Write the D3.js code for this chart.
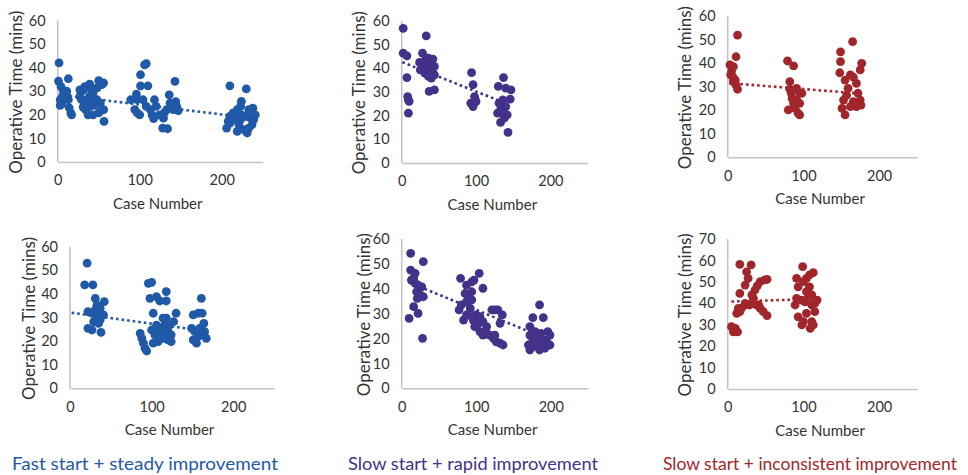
<!DOCTYPE html>
<html>
<head>
<meta charset="utf-8">
<script src="https://cdn.jsdelivr.net/npm/d3@7"></script>
<style>
	body { margin: 0; background: #fff; }
	svg text { font-family: Lato, "Open Sans", sans-serif; fill: #333; }
</style>
</head>
<body>
<svg id="chart" width="968" height="475"></svg>
<script>
// data: [case number, operative time]
var fastSteadyA = [
	[1.6,42],[1,34.3],[13,35.3],[4,32],[7,30],[11,30],[3,26.4],[5,24.6],[9,27],[13,26.4],[14,23],[16,20.8],[17,20],[3,24],[11,28.5],
	[27,30.6],[31,30.4],[33,32],[39,33],[50,34.5],[54,32.8],[56,33.5],[56.5,17.2],[31,23.3],[35,26.4],[39,27.8],[43,29.2],[48,26.4],
	[37,20],[43,20],[50,20.8],[54,22],[39,23.5],[45,24],[52,25],[29,26.4],[34,22.2],[41,30.6],[48,31.4],[56,22.2],[27,27.8],[43,25.6],
	[89,26.4],[96,28.8],[97,26.4],[94,22.2],[97,20.8],[100,20],[101,37],[106,41.2],[108,41.7],[101,32.3],[110,32.3],[104,26.4],
	[108,23.6],[113,22.2],[115,20],[117,18.4],[118,26.4],[120,23.6],[128,14.4],[134,14.1],[129,18.6],[130,20.8],[133,22.2],
	[136,28.5],[137,25],[143,34.2],[141,22.2],[144,25.6],[145,23.6],[147,21.8],[124,20],
	[210,32.3],[230,31],[224,25.7],[206,14.4],[210,16.5],[214,18],[216,20],[219,22.2],[223,23.6],[221,15.8],[227,13.7],[231,12.3],
	[233,14.4],[237,15.8],[239,18],[241,20],[238,22.8],[229,19.3],[224,20],[214,20.8],[210,19.3],[233,22.2],[235,18.7],[223,18],
	[219,13],[208,17.2]
];
var slowRapidA = [
	[2,56.8],[2,46.3],[7,45.2],[7,36],[8,28],[9,26.6],[10,26],[9,21],
	[33,53.6],[28,46.3],[24,42.4],[30,42],[36,44.2],[42,43.8],[40,41.4],[44,40.7],[33,40],[38,38.6],[31,37.9],[42,37.9],[36,36.5],
	[40,35.8],[44,37.2],[37,30.2],[44,30.8],[29,40.7],[25,39.3],[32,43.5],
	[94,38.1],[96,33],[98,28],[99,26.6],[93,25.2],[96,23.8],[100,25.9],
	[130,32.3],[137,36],[140,31.6],[147,30.8],[146,26.9],[131,25.2],[133,22.4],[129,21],[136,23.1],[138,21],[142,20.3],[140,23.8],
	[133,17.1],[143,12.9],[138,18.9],[136,26.6]
];
var slowInconsA = [
	[3,39.2],[7.5,38.5],[13,51.9],[11,42.7],[5,36.4],[7,34],[7.5,32.1],[10,32.8],[13,28.9],[4,35],[11,30.7],
	[79,40.9],[87,38.8],[82,32.1],[84,27.2],[80,20.1],[87,22.9],[91,29.3],[95,27.2],[98,27.2],[89,20.8],[93,18.7],[95,18],[91,24.3],
	[85,25],[82,28.9],[95,22.9],
	[149,44.8],[149,40.6],[148,35.9],[165,49.1],[155,32.8],[162,35],[166,34],[170,31.4],[157,26.4],[153,24.3],[155,18],[162,21.5],
	[166,23.6],[170,21.5],[175,24.3],[176,22.2],[175,37.1],[177,39.9],[172,27.2],[159,29.3],[151,20.8]
];
var fastSteadyB = [
	[21,53],[18,43.8],[28,43.8],[31,38.1],[42,36.7],[33,35.3],[37,33.9],[22,32.5],[27,31.8],[33,31.1],[41,31.1],[29,28.2],[35,27.5],
	[22,25.4],[27,24.7],[38,23.7],[31,33.2],[37,29],
	[86,23.3],[88,21.2],[90,19.1],[92,16.9],[94,15.8],[96,44.5],[100,44.9],[98,38.1],[106,38.8],[110,37],[118,37],[118,41],[102,31.8],
	[106,26.8],[110,25.4],[114,29.7],[116,26.8],[120,24],[122,26.8],[127,28.2],[130,31.8],[124,22.6],[120,20.5],[114,21.2],[108,19.8],
	[102,19.1],[100,24.7],[112,23.3],[118,29.7],[124,19.8],[104,22.6],
	[161,38.1],[151,31.1],[157,31.8],[162,31.8],[164,27.5],[149,25.4],[153,24],[157,21.9],[155,19.1],[161,22.6],[165,24],[167,21.2],
	[151,20.5],[159,25.4]
];
var slowRapidB = [
	[12,54.2],[29,50.9],[12,47.5],[18,46.2],[16,44.2],[22,41.5],[27,40.8],[20,38.8],[25,37.5],[29,36.8],[16,32.8],[10,28.1],[22,30.1],
	[28,20.1],[18,42.2],[13,43.5],[21,36.1],
	[79,44.2],[87,41.5],[94,42.8],[97,43.5],[104,46.2],[109,40.2],[89,37.5],[94,35.5],[87,34.8],[80,33.5],[77,31.5],[92,32.1],[83,27.4],
	[87,29.5],[94,28.8],[100,29.5],[105,28.8],[109,26.8],[103,26.1],[98,24.8],[96,27.4],[105,22.8],[109,21.4],[114,22.1],[118,21.4],
	[123,20.1],[127,18.7],[132,18.1],[136,17.4],[121,31.5],[125,31.5],[129,31.5],[135,29.5],[132,26.1],[85,38.1],[114,24.8],[125,21.4],
	[94,38.8],
	[185,33.5],[176,28.4],[190,28.4],[172,24.8],[196,22.8],[172,21.4],[176,19.4],[181,17.4],[185,15.4],[192,16.1],[194,19.4],[183,20.8],
	[187,22.1],[179,22.8],[170,17.4],[172,15.4],[199,17.4],[190,18.7],[185,18.1],[176,16.7],[199,21.4],[181,21.4]
];
var slowInconsB = [
	[5,29.1],[7.5,26.7],[13,26.7],[10,28.3],[16,58.2],[31,57.9],[25,54.7],[23,48.5],[16,44.6],[27,51.6],[14,37.6],[18,37.6],[23,39.2],
	[29,39.2],[34,42.3],[36,46.2],[39,48.1],[43,50.1],[49,50.9],[52,51.2],[43,37.6],[47,36.1],[52,34.2],[38,39.2],[12,35.3],[16,36.1],
	[23,40],[32,43.9],[41,39.2],
	[99,57.1],[91,51.6],[93,47.7],[100,50.1],[104,51.6],[108,53.2],[113,54.3],[108,47.7],[104,45.4],[91,42.3],[98,41.5],[102,40.7],
	[107,43.1],[111,39.2],[115,40],[118,41.5],[93,33.7],[100,31.4],[98,29.9],[111,31.4],[113,29.9],[109,28.3],[115,36.1],[89,39.2],
	[104,35.3],[111,43.9]
];

// dotted linear trend lines, end points
var trendFastA = [[1,28.5],[240,18.5]];
var trendRapidA = [[1,42.5],[143,24.8]];
var trendInconsA = [[2,31.5],[178,27]];
var trendFastB = [[2,32],[168,24.2]];
var trendRapidB = [[10,42.5],[190,20.5]];
var trendInconsB = [[5,40.8],[118,42]];

var xTicks = [0, 100, 200];
var yTicks60 = [0, 10, 20, 30, 40, 50, 60];
var yTicks70 = [0, 10, 20, 30, 40, 50, 60, 70];

var groupLabels = ['Fast start + steady improvement', 'Slow start + rapid improvement', 'Slow start + inconsistent improvement'];

var blue = '#1f59a7';
var purple = '#43318a';
var red = '#a1262b';

// panel placement in the page (pixels)
var panels = [
	{ pts: fastSteadyA, trend: trendFastA, color: blue, x0: 57.7, x1: 262.7, yb: 162, yt: 20.5, ymax: 60, yt_: yTicks60, titleX: 17 },
	{ pts: slowRapidA, trend: trendRapidA, color: purple, x0: 401.7, x1: 587.5, yb: 163, yt: 20.7, ymax: 60, yt_: yTicks60, titleX: 360 },
	{ pts: slowInconsA, trend: trendInconsA, color: red, x0: 727.7, x1: 917, yb: 157.3, yt: 16, ymax: 60, yt_: yTicks60, titleX: 686 },
	{ pts: fastSteadyB, trend: trendFastB, color: blue, x0: 70, x1: 274, yb: 388.3, yt: 246.7, ymax: 60, yt_: yTicks60, titleX: 30 },
	{ pts: slowRapidB, trend: trendRapidB, color: purple, x0: 401.7, x1: 588, yb: 388.3, yt: 239, ymax: 60, yt_: yTicks60, titleX: 365 },
	{ pts: slowInconsB, trend: trendInconsB, color: red, x0: 727.7, x1: 917, yb: 389, yt: 239, ymax: 70, yt_: yTicks70, titleX: 686 }
];

var svg = d3.select('#chart');

panels.forEach(function (p) {
	var x = d3.scaleLinear().domain([0, 250]).range([p.x0, p.x1]);
	var y = d3.scaleLinear().domain([0, p.ymax]).range([p.yb, p.yt]);
	var g = svg.append('g');

	// axes: plain grey lines, no tick marks
	var xAxis = g.append('g')
		.attr('transform', `translate(0,${p.yb})`)
		.call(d3.axisBottom(x).tickValues(xTicks).tickSize(0).tickPadding(13));
	var yAxis = g.append('g')
		.attr('transform', `translate(${p.x0},0)`)
		.call(d3.axisLeft(y).tickValues(p.yt_).tickSize(0).tickPadding(12));
	yAxis.select('.domain').attr('d', `M0,${y(p.ymax)}V${p.yb}`);
	[xAxis, yAxis].forEach(function (a) {
		a.select('.domain').attr('stroke', '#c4c4c4').attr('stroke-width', 1.6);
		a.selectAll('text').style('font-size', '14.5px').attr('fill', '#333');
	});

	g.append('text')
		.attr('x', x(122))
		.attr('y', p.yb + 47)
		.attr('text-anchor', 'middle')
		.style('font-size', '15px')
		.text('Case Number');

	g.append('text')
		.attr('transform', `translate(${p.titleX},${(p.yb + p.yt) / 2 + 1}) rotate(-90)`)
		.attr('text-anchor', 'middle')
		.attr('dy', '0.28em')
		.style('font-size', '17px')
		.text('Operative Time (mins)');

	g.selectAll('circle')
		.data(p.pts)
		.enter()
		.append('circle')
		.attr('cx', d => x(d[0]))
		.attr('cy', d => y(d[1]))
		.attr('r', 4.4)
		.attr('fill', p.color);

	g.append('path')
		.attr('d', d3.line().x(d => x(d[0])).y(d => y(d[1]))(p.trend))
		.attr('fill', 'none')
		.attr('stroke', p.color)
		.attr('stroke-width', 2.6)
		.attr('stroke-dasharray', '2.6,3');
});

// group captions under each column (narrow face in the original, so squeeze to its widths)
var captionX = [145, 473, 810];
var captionW = [266, 250, 294];
var captionColors = [blue, purple, red];
svg.selectAll('text.caption')
	.data(groupLabels)
	.enter()
	.append('text')
	.attr('class', 'caption')
	.attr('x', (d, i) => captionX[i])
	.attr('y', 464)
	.attr('dy', '0.35em')
	.attr('text-anchor', 'middle')
	.attr('textLength', (d, i) => captionW[i])
	.attr('lengthAdjust', 'spacingAndGlyphs')
	.style('font-size', '17.5px')
	.style('fill', (d, i) => captionColors[i])
	.text(d => d);
</script>
</body>
</html>
